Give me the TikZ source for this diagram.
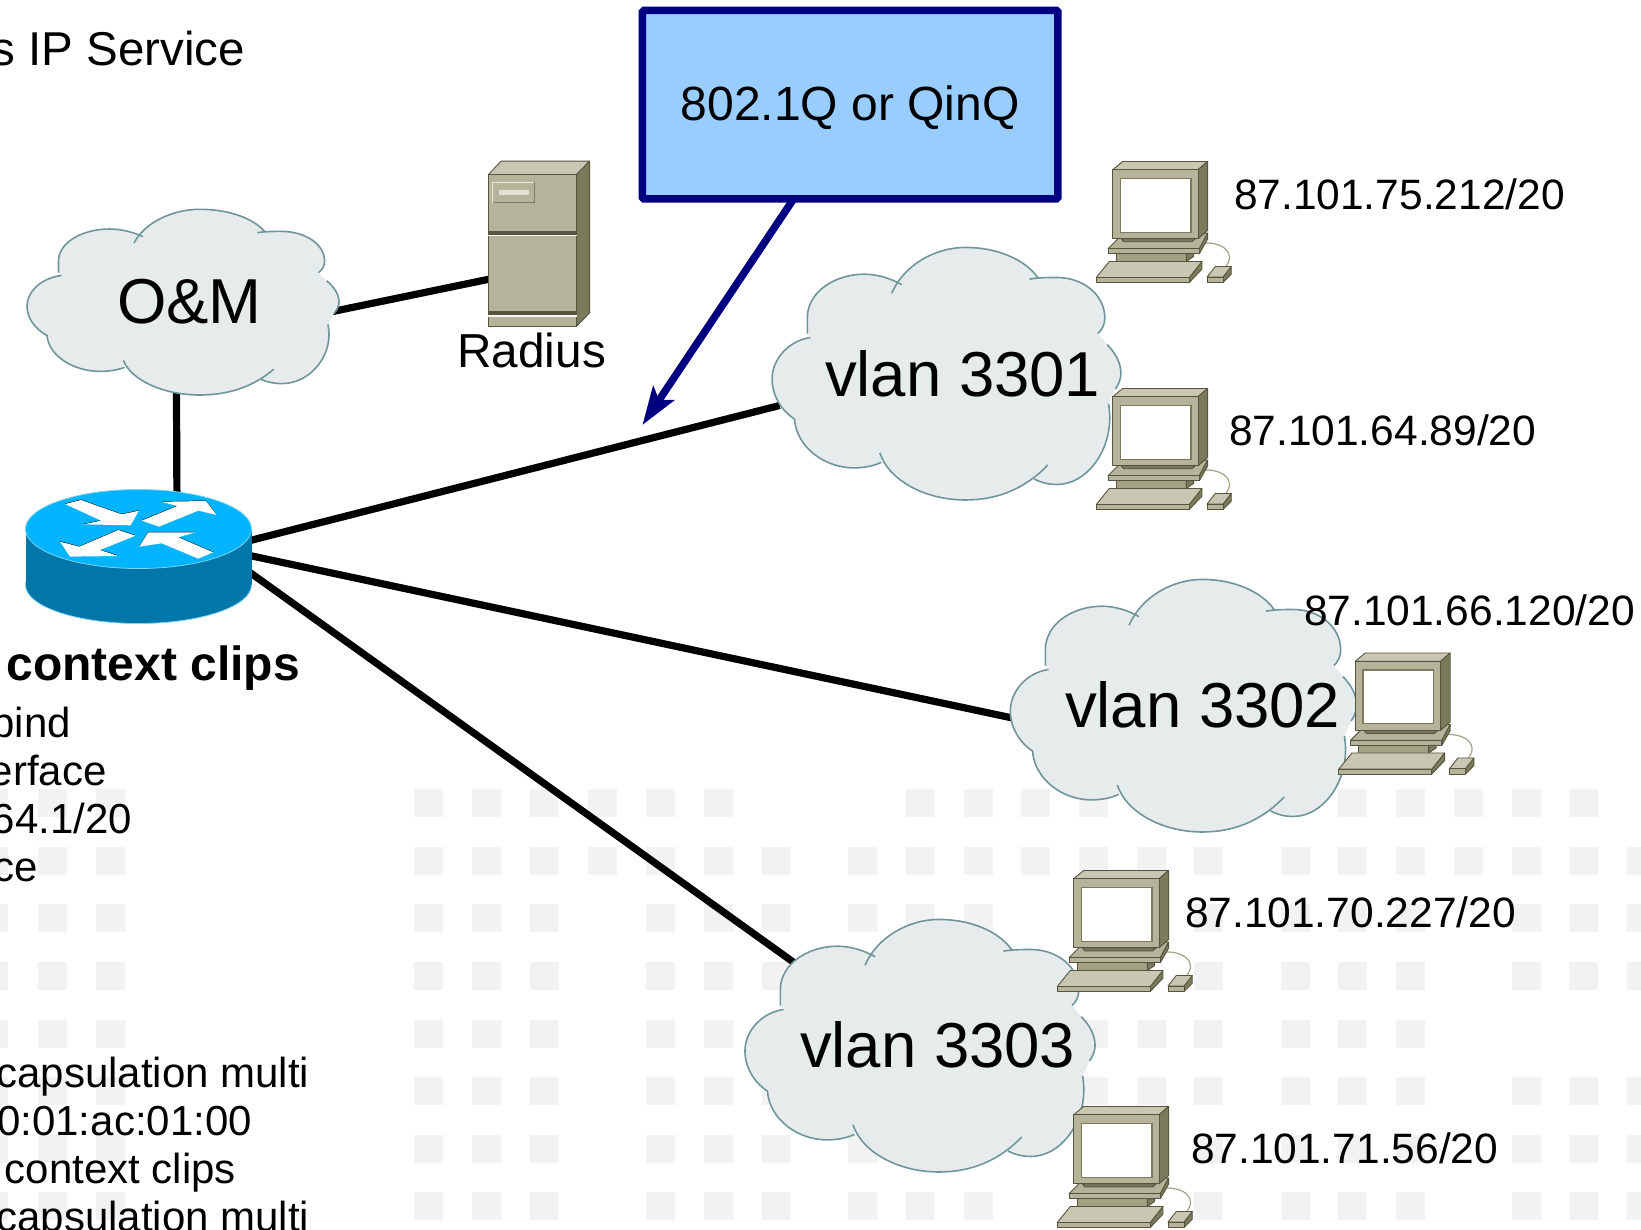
\documentclass[tikz,border=0pt]{standalone}
\usepackage{fontspec}
\setmainfont{Liberation Sans}
\usetikzlibrary{arrows.meta}
\definecolor{tilegray}{HTML}{F2F2F2}
\definecolor{cloudfill}{HTML}{E6ECEC}
\definecolor{cloudline}{HTML}{6F959B}
\definecolor{boxfill}{HTML}{99CCFF}
\definecolor{boxline}{HTML}{000080}
\definecolor{tanlight}{HTML}{C9C7B1}
\definecolor{tanmid}{HTML}{B5B399}
\definecolor{tanneck}{HTML}{A3A184}
\definecolor{tandark}{HTML}{7B7B5B}
\definecolor{tanline}{HTML}{55553F}
\definecolor{routertop}{HTML}{00B4FF}
\definecolor{routerside}{HTML}{0176A8}
\definecolor{routeredge}{HTML}{7FD3F2}
\newcommand{\cloudlobes}[1]{(-121.6,-26.5) .. controls (-142,-24) and (-156,-10) .. (-156,4) .. controls (-156,16) and (-148,27) .. (-136,33.5)
  .. controls (-134,55) and (-108,69.4) .. (-83,69.4) .. controls (-74,69.4) and (-65,68) .. (-58.4,65.3)
  #1 (-59.6,58.4) .. controls (-52,78) and (-20,93) .. (17,93) .. controls (45,93) and (70,85) .. (90.6,67.3)
  #1 (78.4,77.6) .. controls (84,80) and (91,81.6) .. (98.8,81.6) .. controls (125,81.6) and (146,58) .. (146,32.7) .. controls (146,29) and (145.6,26) .. (145,22.4)
  #1 (151,11.4) .. controls (154,8) and (156,4) .. (156,0) .. controls (156,-8) and (151,-15) .. (143.7,-21.2)
  #1 (135.5,-29.4) .. controls (139,-32) and (141.6,-36) .. (141.6,-40.8) .. controls (141.6,-58) and (122,-70.6) .. (98.8,-70.6) .. controls (90,-70.6) and (82,-70.5) .. (74.3,-69.4)
  #1 (81.6,-70.6) .. controls (70,-84) and (45,-92.7) .. (17,-92.7) .. controls (-10,-92.7) and (-38,-80) .. (-49,-59)
  #1 (-40,-65.3) .. controls (-50,-70) and (-62,-73) .. (-73.5,-73) .. controls (-100,-73) and (-124.5,-60) .. (-124.5,-40.8) -- (-124.5,-29.4)}
\newcommand{\routerarrows}{(135,72) -- (183,60) -- (305,103) -- (357,92) -- (332,136) -- (190,133) -- (243,122) -- cycle
  (365,122) -- (472,78) -- (422,65) -- (558,63) -- (590,105) -- (535,92) -- (417,140) -- cycle
  (347,167) -- (240,210) -- (295,228) -- (150,230) -- (120,185) -- (178,200) -- (295,150) -- cycle
  (358,200) -- (385,157) -- (527,157) -- (475,172) -- (580,217) -- (535,236) -- (425,190) -- cycle}
\tikzset{
  tile/.style={fill=tilegray},
  link/.style={line width=7.2pt, color=black, shorten <=-8pt, shorten >=-8pt},
  iplabel/.style={anchor=base west, font=\fontsize{42.5}{50}\selectfont},
  cloudlabel/.style={anchor=base west, font=\fontsize{63.5}{70}\selectfont},
  sidelabel/.style={anchor=base east, font=\fontsize{42}{50}\selectfont},
  biglabel/.style={anchor=base west, font=\fontsize{47.7}{55}\selectfont},
  tanpart/.style={draw=tanline, line width=0.9pt, line join=round},
  cloudshape/.pic={
    \fill[cloudfill] \cloudlobes{--} -- cycle;
    \draw[cloudline, line width=1.6pt] \cloudlobes{};
  },
  routershape/.pic={
    \fill[routerside, draw=routeredge, line width=0.8pt] (0,29) ellipse [x radius=113, y radius=38.5];
    \fill[routerside] (-113,-27) rectangle (113,29);
    \fill[routertop, draw=routeredge, line width=0.8pt] (0,-27) ellipse [x radius=113, y radius=39.5];
    \begin{scope}[shift={(-118.5,-76)}, scale=0.3333]
      \fill[black, yshift=1.4pt] \routerarrows;
      \fill[white] \routerarrows;
    \end{scope}
  },
  servershape/.pic={
    \begin{scope}[shift={(-539,-243.7)}, scale=0.408]
      \filldraw[tanpart, fill=tanlight] (1197,428) -- (1228,395) -- (1445,395) -- (1413,428) -- cycle;
      \filldraw[tanpart, fill=tandark] (1413,428) -- (1445,395) -- (1445,767) -- (1413,800) -- cycle;
      \filldraw[tanpart, line width=1.3pt, fill=tanmid] (1197,428) rectangle (1413,800);
      \fill[tanline] (1197,567) rectangle (1413,575);
      \fill[white!85!tanmid] (1197,575) rectangle (1413,578);
      \fill[tanline] (1197,763) rectangle (1413,773);
      \fill[white!85!tanmid] (1197,773) rectangle (1413,776);
      \filldraw[tandark, fill=tanmid, line width=0.9pt] (1208,447) rectangle (1310,497);
      \draw[white!70!tanmid, line width=0.9pt] (1208,497) -- (1208,447) -- (1310,447);
      \fill[white!60!tanmid] (1222,465) rectangle (1297,478);
    \end{scope}
  },
  computershape/.pic={
    \begin{scope}[shift={(-103.7,-82.2)}, scale=0.3333]
      \draw[tanneck, line width=1.2pt] (425,310) .. controls (480,305) and (530,335) .. (497,380);
      \filldraw[tanpart, fill=tanmid] (143,327) -- (190,280) -- (442,280) -- (417,327) -- cycle;
      \filldraw[tanpart, fill=tandark] (417,327) -- (442,280) -- (442,298) -- (417,342) -- cycle;
      \filldraw[tanpart, fill=tanmid] (143,327) rectangle (417,342);
      \filldraw[tanpart, fill=tanneck] (167,342) rectangle (378,365);
      \filldraw[tanpart, fill=tandark] (378,342) -- (400,342) -- (400,350) -- (378,365) -- cycle;
      \filldraw[tanpart, fill=tandark] (183,297) -- (405,297) -- (395,306) -- (190,306) -- cycle;
      \filldraw[tanpart, fill=tanlight] (157,90) -- (187,65) -- (442,65) -- (413,90) -- cycle;
      \filldraw[tanpart, fill=tandark] (413,90) -- (442,65) -- (442,272) -- (413,297) -- cycle;
      \filldraw[tanpart, fill=tanmid] (157,90) rectangle (413,297);
      \filldraw[draw=tandark, fill=white, line width=1.2pt] (180,116) rectangle (392,277);
      \filldraw[tanpart, fill=tandark] (387,413) -- (425,365) -- (425,388) -- (387,428) -- cycle;
      \filldraw[tanpart, fill=tanlight] (147,365) -- (425,365) -- (387,413) -- (108,413) -- cycle;
      \filldraw[tanpart, fill=tanmid] (108,413) rectangle (387,428);
      \filldraw[tanpart, fill=tandark] (488,412) -- (513,380) -- (513,403) -- (488,428) -- cycle;
      \filldraw[tanpart, fill=tanlight] (465,380) -- (513,380) -- (488,412) -- (440,412) -- cycle;
      \filldraw[tanpart, fill=tanmid] (440,412) rectangle (488,428);
    \end{scope}
  }
}
\begin{document}
\begin{tikzpicture}
[x=1pt, y=-1pt, every node/.style={inner sep=0pt, outer sep=0pt}]
\useasboundingbox (0,0) rectangle (1641,1229);
\foreach \rowy/\cols in {
  789/{-21,38,96,414,472,530,588,646,704,906,964,1021,1079,1338,1396,1454,1512,1569},
  847/{-21,38,96,414,472,530,588,646,704,762,848,906,964,1021,1079,1137,1194,1281,1338,1396,1454,1512,1569,1627},
  904/{-21,38,96,414,472,530,646,704,762,848,906,964,1194,1281,1338,1396,1512,1569,1627},
  962/{-21,38,96,414,472,530,646,704,762,1194,1281,1338,1396,1512,1569,1627},
  1020/{-21,38,96,414,472,530,646,704,1079,1137,1194,1281,1338,1396},
  1077/{-21,38,96,414,472,530,646,704,762,1079,1137,1194,1281,1338,1396,1512,1569,1627},
  1135/{-21,38,96,414,472,530,646,704,762,848,1194,1281,1338,1396,1512,1569,1627},
  1192/{-21,38,96,414,472,530,646,704,762,848,906,964,1194,1281,1338,1396,1512,1569,1627}}
  \foreach \colx in \cols
    \fill[tile] (\colx,\rowy) rectangle ++(28.5,28);
\node (om) [minimum width=312pt, minimum height=186pt] at (183, 302) {};
\node (radius) [minimum width=102pt, minimum height=165pt] at (539, 243.7) {};
\node (router) [minimum width=227pt, minimum height=133pt] at (138.5, 556) {};
\node (vlanA) [minimum width=349pt, minimum height=253pt] at (946.5, 373.5) {};
\node (vlanB) [minimum width=346pt, minimum height=253pt] at (1183.5, 705.5) {};
\node (vlanC) [minimum width=350pt, minimum height=253pt] at (920, 1045.5) {};
\node (qbox) [minimum width=415.5pt, minimum height=188.5pt, text height=32pt, text depth=0pt, draw=boxline, fill=boxfill, line width=7.5pt, rounded corners=1.5pt, font=\fontsize{48}{55}\selectfont] at (850.2, 104.7) {802.1Q or QinQ};
\coordinate (qtip) at (642.4, 425);
\draw [link] (om.-3.3) to (radius.215.2);
\draw [link] (om.266.3) to (router.60);
\draw [link] (router.8.5) to (vlanA.191.2);
\draw [link] (router.0) to (vlanB.184.2);
\draw [link, shorten >=-70pt] (router.-9.5) to (vlanC.146.8);
\draw [line width=7.5pt, color=boxline, -{Stealth[length=38pt, width=25pt, inset=8pt]}] (qbox.239.9) to (qtip);
\pic at (om.center) {cloudshape};
\pic [xscale=1.118, yscale=1.36] at (vlanA.center) {cloudshape};
\pic [xscale=1.11, yscale=1.36] at (vlanB.center) {cloudshape};
\pic [xscale=1.122, yscale=1.36] at (vlanC.center) {cloudshape};
\pic at (radius.center) {servershape};
\pic at (router.center) {routershape};
\pic at (1164, 222) {computershape};
\pic at (1164, 449) {computershape};
\pic at (1406.6, 713.5) {computershape};
\pic at (1125, 931) {computershape};
\pic at (1125, 1167) {computershape};
\node (omText) [cloudlabel] at (117, 323.5) {O\&M};
\node (vlanAText) [cloudlabel] at (825, 396) {vlan 3301};
\node (vlanBText) [cloudlabel] at (1065, 727.2) {vlan 3302};
\node (vlanCText) [cloudlabel] at (800, 1067.7) {vlan 3303};
\node (radiusText) [biglabel] at (457.5, 367.5) {Radius};
\node (ipA) [iplabel] at (1234, 209) {87.101.75.212/20};
\node (ipB) [iplabel] at (1229, 445) {87.101.64.89/20};
\node (ipC) [iplabel] at (1304, 625) {87.101.66.120/20};
\node (ipD) [iplabel] at (1185, 927) {87.101.70.227/20};
\node (ipE) [iplabel] at (1191, 1163) {87.101.71.56/20};
\node (serviceText) [biglabel, anchor=base east, font=\fontsize{47.5}{55}\selectfont] at (245, 65) {s IP Service};
\node (clipsHead) [biglabel, anchor=base east, font=\fontsize{48}{55}\selectfont\bfseries] at (300, 680) {context clips};
\node (sideA) [sidelabel] at (70.8, 737.5) {bind};
\node (sideB) [sidelabel] at (106.5, 785.5) {erface};
\node (sideC) [sidelabel] at (131.8, 833.5) {64.1/20};
\node (sideD) [sidelabel] at (37.5, 881.5) {ce};
\node (sideE) [sidelabel] at (309.2, 1087.5) {capsulation multi};
\node (sideF) [sidelabel] at (251.8, 1135.5) {0:01:ac:01:00};
\node (sideG) [sidelabel] at (235.8, 1183.5) {context clips};
\node (sideH) [sidelabel] at (309.2, 1231.5) {capsulation multi};
\end{tikzpicture}
\end{document}
